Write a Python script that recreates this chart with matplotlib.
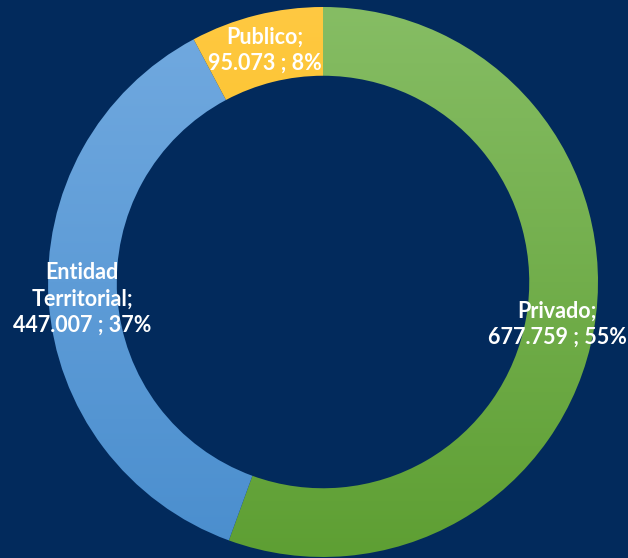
import numpy as np
import matplotlib
matplotlib.use("Agg")
import matplotlib.pyplot as plt
from matplotlib.colors import LinearSegmentedColormap

# data
labels = ["Privado", "Entidad\nTerritorial", "Publico"]
values = [677759, 447007, 95073]
value_txt = ["677.759", "447.007", "95.073"]
pct_txt = ["55%", "37%", "8%"]
# gradient colours (top, bottom) per slice
colors_top = ["#86BD64", "#72AAE0", "#FFC942"]
colors_bot = ["#5E9F33", "#4A8ECE", "#F2B600"]

bg = "#022A5C"

fig = plt.figure(figsize=(6.28, 5.58), dpi=100, facecolor=bg)
ax = fig.add_axes([0, 0, 1, 1])
ax.set_facecolor(bg)

cx, cy, R = 323, 276, 275
wedges, _ = ax.pie(values, radius=R, center=(cx, cy), startangle=90, counterclock=False,
                   wedgeprops=dict(width=R * 0.25, edgecolor="none"), frame=True)
ax.set_xlim(0, 628)
ax.set_ylim(0, 558)
ax.set_aspect("equal")
ax.axis("off")

# vertical gradient for each slice
grad = np.linspace(0, 1, 256).reshape(-1, 1)
for w, ct, cb in zip(wedges, colors_top, colors_bot):
    cmap = LinearSegmentedColormap.from_list("g", [cb, ct])
    im = ax.imshow(grad, cmap=cmap, origin="lower", aspect="auto",
                   extent=(cx - R, cx + R, cy - R, cy + R), zorder=2)
    im.set_clip_path(w)
    w.set_facecolor("none")

font = dict(color="white", fontsize=15.5, fontweight="bold", family=["Lato", "DejaVu Sans"],
            ha="center", va="center", linespacing=1.3, zorder=5)
ax.text(557, 558 - 324, f"{labels[0]};\n{value_txt[0]} ; {pct_txt[0]}", **font)
ax.text(82, 558 - 299, f"{labels[1]};\n{value_txt[1]} ; {pct_txt[1]}", **font)
ax.text(265, 558 - 50, f"{labels[2]};\n{value_txt[2]} ; {pct_txt[2]}", **font)

fig.savefig("out.png", dpi=100, facecolor=bg)
